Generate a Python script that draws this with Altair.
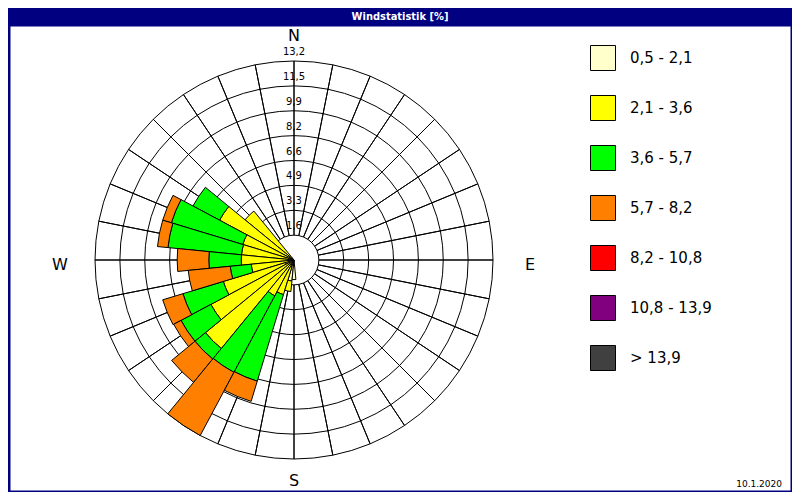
import math
import altair as alt
import pandas as pd

# ---------------- data (percent of time per direction and wind-speed class) ----------------
directions = [315, 303.75, 292.5, 281.25, 270, 258.75, 247.5, 236.25, 225, 213.75, 202.5, 191.25, 180]
share_0_5_2_1 = [0.2, 0.25, 0.3, 0.3, 0.3, 0.4, 0.6, 0.4, 0.4, 0.4, 0.5, 1.4, 1.3]
share_2_1_3_6 = [4.0, 5.35, 3.25, 3.2, 3.2, 2.45, 4.3, 5.85, 7.2, 2.3, 1.9, 0.7, 0.0]
share_3_6_5_7 = [0.0, 2.0, 4.95, 4.9, 2.15, 1.4, 2.8, 2.25, 0.9, 5.75, 6.0, 0.0, 0.0]
share_5_7_8_2 = [0.0, 0.0, 0.6, 0.7, 2.1, 2.8, 1.4, 0.55, 2.0, 4.75, 1.4, 0.0, 0.0]
share_8_2_10_8 = [0.0] * 13
share_10_8_13_9 = [0.0] * 13
share_gt_13_9 = [0.0] * 13

class_labels = ["0,5 - 2,1", "2,1 - 3,6", "3,6 - 5,7", "5,7 - 8,2", "8,2 - 10,8", "10,8 - 13,9", "\u2007> 13,9"]
class_colors = ["#FFFFCC", "#FFFF00", "#00FF00", "#FF8000", "#FF0000", "#800080", "#404040"]

ring_values = [1.65, 3.3, 4.95, 6.6, 8.25, 9.9, 11.55, 13.2]
ring_labels = ["1,6", "3,3", "4,9", "6,6", "8,2", "9,9", "11,5", "13,2"]
spoke_angles = [i * 11.25 for i in range(32)]
sector_width = 11.25
compass_labels = ["N", "E", "S", "W"]
compass_angles = [0, 90, 180, 270]
compass_radius = [15.19, 15.65, 14.33, 15.52]
title_text = "Windstatistik [%]"
date_text = "10.1.2020"

# ---------------- tables ----------------
shares = [share_0_5_2_1, share_2_1_3_6, share_3_6_5_7, share_5_7_8_2,
          share_8_2_10_8, share_10_8_13_9, share_gt_13_9]
rows = []
for i, d in enumerate(directions):
    cum = 0.0
    for c, lab in enumerate(class_labels):
        v = shares[c][i]
        if v > 0:
            rows.append({"t0": d - sector_width / 2, "t1": d + sector_width / 2,
                         "r0": cum, "r1": cum + v, "cls": lab, "order": c})
        cum += v
wedges_df = pd.DataFrame(rows)
rings_df = pd.DataFrame({"r": ring_values, "t0": 0.0, "t1": 360.0})
spokes_df = pd.DataFrame({"a": spoke_angles, "r0": ring_values[0], "r1": ring_values[-1]})
ringlab_df = pd.DataFrame({"r": ring_values, "lab": ring_labels, "a": 0.0})
compass_df = pd.DataFrame({"lab": compass_labels, "a": compass_angles, "r": compass_radius})
date_df = pd.DataFrame({"lab": [date_text]})

# ---------------- layout ----------------
PAD_T, PAD_L = 18, 2
W, H = 780, 464
CX, CY = 294 - 8 - PAD_L, 260 - 8 - PAD_T

theta_scale = alt.Scale(domain=[0, 360], range=[0, 2 * math.pi])
r_scale = alt.Scale(type="linear", domain=[0, 13.2], range=[0, 199], zero=True, nice=False)

rings = alt.Chart(rings_df).mark_arc(filled=False, stroke="black", strokeWidth=1).encode(
    theta=alt.Theta("t0:Q", scale=theta_scale, stack=None),
    theta2="t1:Q",
    radius=alt.Radius("r:Q", scale=r_scale, stack=None),
    x=alt.value(CX), y=alt.value(CY),
)

spokes = alt.Chart(spokes_df).mark_arc(filled=False, stroke="black", strokeWidth=1).encode(
    theta=alt.Theta("a:Q", scale=theta_scale, stack=None),
    theta2="a:Q",
    radius=alt.Radius("r1:Q", scale=r_scale, stack=None),
    radius2="r0:Q",
    x=alt.value(CX), y=alt.value(CY),
)

wedges = alt.Chart(wedges_df).mark_arc(stroke="black", strokeWidth=1, opacity=1).encode(
    theta=alt.Theta("t0:Q", scale=theta_scale, stack=None),
    theta2="t1:Q",
    radius=alt.Radius("r1:Q", scale=r_scale, stack=None),
    radius2="r0:Q",
    fill=alt.Fill("cls:N", scale=alt.Scale(domain=class_labels, range=class_colors),
                  legend=alt.Legend(title=None, orient="none", legendX=580, legendY=19,
                                    symbolType="square", symbolSize=625,
                                    symbolStrokeColor="black", symbolStrokeWidth=1,
                                    symbolOpacity=1,
                                    labelFontSize=15, labelFont="DejaVu Sans",
                                    labelColor="black", labelOffset=14,
                                    rowPadding=20, padding=0, labelLimit=300)),
    order=alt.Order("order:Q"),
    x=alt.value(CX), y=alt.value(CY),
)

ring_text = alt.Chart(ringlab_df).mark_text(fontSize=10, font="DejaVu Sans", color="black",
                                             dy=-9, baseline="middle", align="center").encode(
    theta=alt.Theta("a:Q", scale=theta_scale, stack=None),
    radius=alt.Radius("r:Q", scale=r_scale, stack=None),
    text="lab:N",
    x=alt.value(CX), y=alt.value(CY),
)

compass_text = alt.Chart(compass_df).mark_text(fontSize=16, font="DejaVu Sans", color="black",
                                                dy=5, baseline="middle", align="center").encode(
    theta=alt.Theta("a:Q", scale=theta_scale, stack=None),
    radius=alt.Radius("r:Q", scale=r_scale, stack=None),
    text="lab:N",
    x=alt.value(CX), y=alt.value(CY),
)

date_mark = alt.Chart(date_df).mark_text(fontSize=9, font="DejaVu Sans", color="black",
                                         align="right", baseline="alphabetic").encode(
    text="lab:N",
    x=alt.value(W - 8), y=alt.value(H - 3),
)

chart = alt.layer(rings, spokes, wedges, ring_text, compass_text, date_mark).properties(
    width=W, height=H,
    padding={"left": PAD_L, "top": PAD_T, "right": 2, "bottom": 2},
    autosize="none",
    background="#000080",
    title=alt.Title(title_text, color="white", fontSize=11, fontWeight="bold",
                    font="DejaVu Sans Condensed", anchor="middle", offset=4),
).configure_view(fill="white", stroke="transparent")

chart.save("out.html", embed_options={"renderer": "svg", "actions": False})
